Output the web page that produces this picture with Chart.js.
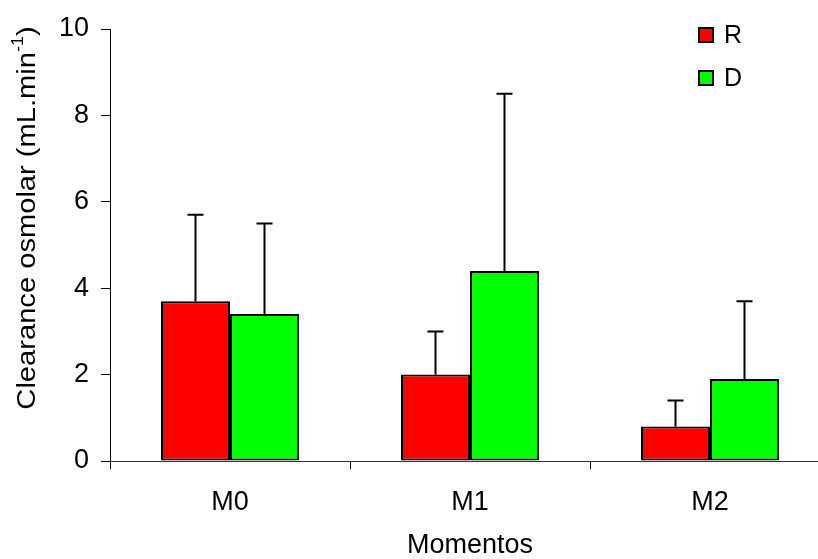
<!DOCTYPE html>
<html>
<head>
<meta charset="utf-8">
<script src="https://cdn.jsdelivr.net/npm/chart.js@4.4.1/dist/chart.umd.min.js"></script>
<style>
  html, body { margin: 0; padding: 0; background: #fff; overflow: hidden; }
  #wrap { width: 830px; height: 559px; }
</style>
</head>
<body>
<div id="wrap"><canvas id="chart" width="830" height="559"></canvas></div>
<script>
// data
const categories = ['M0', 'M1', 'M2'];
const seriesNames = ['R', 'D'];
const valuesR = [3.7, 2.0, 0.8];
const valuesD = [3.4, 4.4, 1.9];
const errorsR = [2.0, 1.0, 0.6];
const errorsD = [2.1, 4.1, 1.8];
const yTicks = [0, 2, 4, 6, 8, 10];
const yTitle = 'Clearance osmolar (mL.min';
const yTitleSup = '-1';
const yTitleEnd = ')';
const xTitle = 'Momentos';

const FONT = '"Liberation Sans", Arial, sans-serif';
const colors = ['#ff0000', '#00ff00'];

// upward-only error bars with a cap
const errorBars = {
  id: 'errorBars',
  afterDatasetsDraw(chart) {
    const { ctx } = chart;
    const yScale = chart.scales.y;
    ctx.save();
    ctx.strokeStyle = '#000';
    ctx.lineWidth = 2;
    chart.data.datasets.forEach((ds, i) => {
      const meta = chart.getDatasetMeta(i);
      meta.data.forEach((bar, j) => {
        const top = yScale.getPixelForValue(ds.data[j] + ds.errors[j]);
        ctx.beginPath();
        ctx.moveTo(bar.x, bar.y);
        ctx.lineTo(bar.x, top);
        ctx.moveTo(bar.x - 8, top);
        ctx.lineTo(bar.x + 8, top);
        ctx.stroke();
      });
    });
    ctx.restore();
  }
};

// legend in the top right corner and the two axis titles
const decorations = {
  id: 'decorations',
  afterDraw(chart) {
    const { ctx, chartArea } = chart;
    ctx.save();

    chart.data.datasets.forEach((ds, i) => {
      const y = 27 + i * 43;
      ctx.fillStyle = ds.backgroundColor;
      ctx.fillRect(698, y, 16, 16);
      ctx.strokeStyle = '#000';
      ctx.lineWidth = 2;
      ctx.strokeRect(699, y + 1, 14, 14);
      ctx.fillStyle = '#000';
      ctx.font = `25px ${FONT}`;
      ctx.textAlign = 'left';
      ctx.textBaseline = 'alphabetic';
      ctx.fillText(ds.label, 724, y + 16);
    });

    // x title
    ctx.fillStyle = '#000';
    ctx.font = `27px ${FONT}`;
    ctx.textAlign = 'center';
    ctx.textBaseline = 'alphabetic';
    ctx.fillText(xTitle, (chartArea.left + chartArea.right) / 2, 553);

    // y title with superscript
    ctx.translate(28, 218);
    ctx.rotate(-Math.PI / 2);
    ctx.scale(1.12, 1);
    const big = `26px ${FONT}`;
    const small = `16px ${FONT}`;
    ctx.font = big;
    const w1 = ctx.measureText(yTitle).width;
    const w3 = ctx.measureText(yTitleEnd).width;
    ctx.font = small;
    const w2 = ctx.measureText(yTitleSup).width;
    let x = -(w1 + w2 + w3) / 2;
    ctx.textAlign = 'left';
    ctx.textBaseline = 'middle';
    ctx.font = big;
    ctx.fillText(yTitle, x, 0);
    x += w1;
    ctx.font = small;
    ctx.fillText(yTitleSup, x, -9);
    x += w2;
    ctx.font = big;
    ctx.fillText(yTitleEnd, x, 0);
    ctx.restore();
  }
};

const ctx = document.getElementById('chart').getContext('2d');
new Chart(ctx, {
  type: 'bar',
  data: {
    labels: categories,
    datasets: [
      { label: seriesNames[0], data: valuesR, errors: errorsR, backgroundColor: colors[0] },
      { label: seriesNames[1], data: valuesD, errors: errorsD, backgroundColor: colors[1] },
    ].map((ds) => ({
      ...ds,
      borderColor: '#000',
      borderWidth: 2,
      borderSkipped: false,
      barPercentage: 1,
      categoryPercentage: 0.575,
    })),
  },
  options: {
    responsive: false,
    animation: false,
    devicePixelRatio: 1,
    layout: { padding: { top: 29, left: 0, right: 0, bottom: 0 } },
    plugins: {
      legend: { display: false },
      tooltip: { enabled: false },
    },
    scales: {
      x: {
        afterFit: (scale) => { scale.height = 98; },
        grid: { drawOnChartArea: false, drawTicks: true, tickLength: 8, color: '#000', offset: true },
        border: { display: true, color: '#333', width: 1 },
        ticks: { color: '#000', padding: 17, font: { family: FONT, size: 27 } },
      },
      y: {
        min: 0,
        max: 10,
        afterFit: (scale) => { scale.width = 110; },
        afterBuildTicks: (scale) => { scale.ticks = yTicks.map((v) => ({ value: v })); },
        grid: { drawOnChartArea: false, drawTicks: true, tickLength: 9, color: '#000' },
        border: { display: true, color: '#000', width: 1 },
        ticks: { color: '#000', padding: 12, font: { family: FONT, size: 27 } },
      },
    },
  },
  plugins: [errorBars, decorations],
});
</script>
</body>
</html>
